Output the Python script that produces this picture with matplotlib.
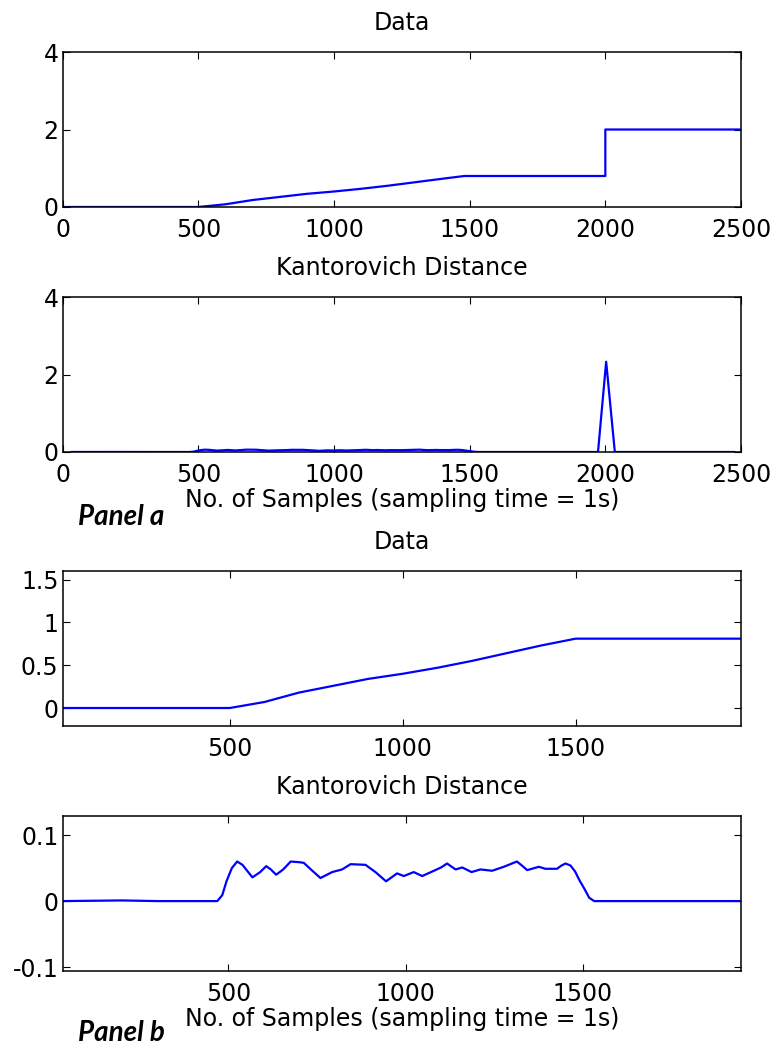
import matplotlib
matplotlib.use("Agg")
import matplotlib.pyplot as plt
from matplotlib.ticker import FixedLocator

plt.rcParams['font.family'] = ['DejaVu Sans']

# Panel a, "Data": piecewise signal over 0..2500 samples
data_a_x = [0, 500, 600, 700, 800, 900, 1000, 1100, 1200, 1300, 1400, 1480, 2000, 2000, 2500]
data_a_y = [0.0, 0.0, 0.07, 0.18, 0.26, 0.34, 0.40, 0.47, 0.55, 0.64, 0.73, 0.80, 0.80, 2.0, 2.0]

# Panel b, "Data": the first ~1980 samples of the same signal
data_b_x = [17, 500, 600, 700, 800, 900, 1000, 1100, 1200, 1300, 1400, 1500, 1978]
data_b_y = [0.0, 0.0, 0.07, 0.18, 0.26, 0.34, 0.40, 0.47, 0.55, 0.64, 0.73, 0.81, 0.81]

# Kantorovich distance, detail (panel b)
kd_x = [33, 200, 300, 469, 483, 495, 510, 525, 540, 568, 590, 607, 620, 635, 655, 676,
        700, 713, 735, 760, 793, 821, 845, 887, 915, 945, 976, 995, 1023, 1047, 1080,
        1100, 1117, 1141, 1160, 1186, 1211, 1244, 1277, 1300, 1314, 1328, 1343, 1376,
        1394, 1427, 1440, 1451, 1465, 1478, 1490, 1505, 1518, 1532, 1700, 1946]
kd_y = [0.0, 0.001, 0.0, 0.0, 0.009, 0.030, 0.050, 0.060, 0.055, 0.036, 0.044, 0.053,
        0.048, 0.040, 0.048, 0.060, 0.059, 0.058, 0.047, 0.035, 0.044, 0.048, 0.056,
        0.055, 0.044, 0.030, 0.042, 0.038, 0.044, 0.038, 0.046, 0.051, 0.057, 0.048,
        0.051, 0.044, 0.048, 0.046, 0.052, 0.057, 0.060, 0.054, 0.047, 0.052, 0.049,
        0.049, 0.054, 0.057, 0.054, 0.045, 0.032, 0.018, 0.005, 0.0, 0.0, 0.0]

# Kantorovich distance, full range (panel a): same bump plus the spike at 2000
kd_a_x = kd_x[:-1] + [1973, 2003, 2035, 2475]
kd_a_y = kd_y[:-1] + [0.0, 2.33, 0.0, 0.0]

titles = ["Data", "Kantorovich Distance", "Data", "Kantorovich Distance"]
xlabel = "No. of Samples (sampling time = 1s)"

fig = plt.figure(figsize=(7.73, 10.47), dpi=100)

L, W, H = 0.0811, 0.8775, 0.148
bottoms = [0.8023, 0.5683, 0.3066, 0.0726]
axes = [fig.add_axes([L, b, W, H]) for b in bottoms]

series = [(data_a_x, data_a_y), (kd_a_x, kd_a_y), (data_b_x, data_b_y), (kd_x, kd_y)]
for ax, (x, y), t in zip(axes, series, titles):
    ax.plot(x, y, color=(0, 0, 1), lw=1.6)
    ax.set_title(t, fontsize=17, pad=16)
    ax.tick_params(direction='in', top=True, right=True, length=5, width=0.8,
                   labelsize=17, colors='black')
    ax.tick_params(axis='x', pad=8)
    ax.tick_params(axis='y', pad=3)
    for s in ax.spines.values():
        s.set_linewidth(1.1)

for ax in axes[:2]:
    ax.set_xlim(0, 2500)
    ax.set_ylim(0, 4)
    ax.xaxis.set_major_locator(FixedLocator([0, 500, 1000, 1500, 2000, 2500]))
    ax.yaxis.set_major_locator(FixedLocator([0, 2, 4]))

axes[2].set_xlim(17, 1978)
axes[2].set_ylim(-0.21, 1.6)
axes[2].xaxis.set_major_locator(FixedLocator([500, 1000, 1500]))
axes[2].yaxis.set_major_locator(FixedLocator([0, 0.5, 1, 1.5]))
axes[2].set_yticklabels(['0', '0.5', '1', '1.5'])

axes[3].set_xlim(33, 1946)
axes[3].set_ylim(-0.106, 0.129)
axes[3].xaxis.set_major_locator(FixedLocator([500, 1000, 1500]))
axes[3].yaxis.set_major_locator(FixedLocator([-0.1, 0, 0.1]))
axes[3].set_yticklabels(['-0.1', '0', '0.1'])

for ax in (axes[1], axes[3]):
    ax.set_xlabel(xlabel, fontsize=17, labelpad=1)

fig.text(0.157, 1 - 517 / 1047, "Panel a", family='Lato', fontsize=20,
         weight='bold', style='italic', ha='center', va='center')
fig.text(0.157, 1 - 1033 / 1047, "Panel b", family='Lato', fontsize=20,
         weight='bold', style='italic', ha='center', va='center')

fig.savefig("out.png", dpi=100)
